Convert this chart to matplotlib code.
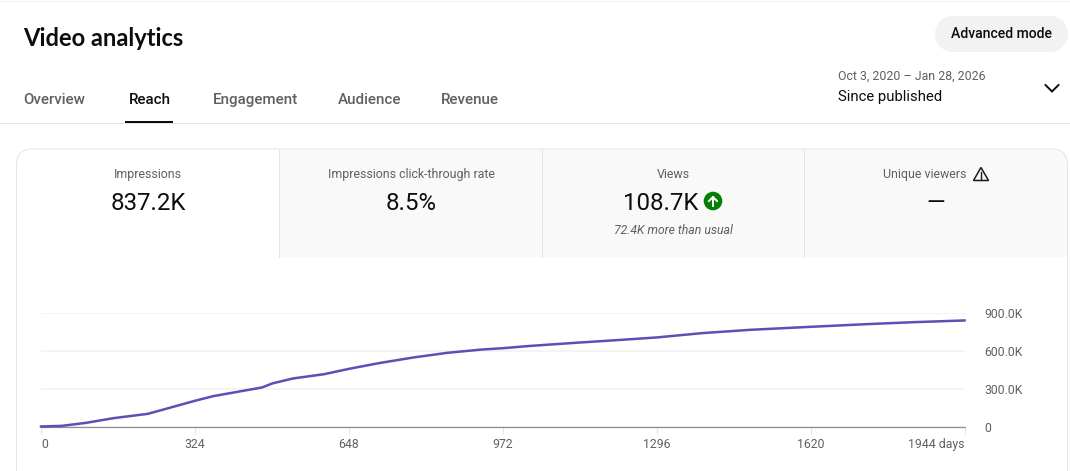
"""YouTube Studio reach tab, redrawn"""

import matplotlib
matplotlib.use('Agg')
import matplotlib.pyplot as plt
from matplotlib.patches import Rectangle, FancyBboxPatch, Circle, Polygon

plt.rcParams['font.family'] = ['Roboto', 'DejaVu Sans']

#%% data
days = [0, 44, 95, 153, 225, 276, 324, 363, 414, 465, 487, 530, 596, 648, 711, 784, 856,
        929, 972, 1029, 1130, 1217, 1296, 1391, 1492, 1620, 1738, 1840, 1944]
impressions = [0, 5, 29, 66, 100, 153, 203, 240, 274, 308, 340, 379, 413, 455, 500, 545, 582,
               608, 618, 636, 662, 683, 703, 737, 763, 787, 808, 824, 837.2]
x_ticks = [0, 324, 648, 972, 1296, 1620, 1944]
x_labels = ['0', '324', '648', '972', '1296', '1620', '1944 days']
y_ticks = [0, 300, 600, 900]
y_labels = ['0', '300.0K', '600.0K', '900.0K']
tabs = ['Overview', 'Reach', 'Engagement', 'Audience', 'Revenue']
tab_x = [24, 129, 213, 338, 441]
card_titles = ['Impressions', 'Impressions click-through rate', 'Views', 'Unique viewers']
card_x = [148, 411, 673.5, 925]
card_values = ['837.2K', '8.5%', '108.7K', '\u2014']
card_value_x = [148, 411, 661, 936]

W, H = 1070, 471
GREY = '#606060'
DARK = '#0d0d0d'
BORDER = '#e5e5e5'


def px(size):
    return size * 0.72


fig = plt.figure(figsize=(W / 100, H / 100), dpi=100)
bg = fig.add_axes([0, 0, 1, 1])
bg.set_xlim(0, W)
bg.set_ylim(H, 0)
bg.axis('off')

#%% header
bg.plot([0, W], [0.5, 0.5], color='#f2f2f2', lw=0.72)
bg.text(23.5, 38, 'Video analytics', fontsize=px(23.7), fontweight='bold', color=DARK,
        family='Lato', va='center')
bg.add_patch(Rectangle((953, 16), 97, 36, fc='#f2f2f2', ec='none'))
bg.add_patch(Circle((953, 34), 18, fc='#f2f2f2', ec='none'))
bg.add_patch(Circle((1050, 34), 18, fc='#f2f2f2', ec='none'))
bg.text(1001.5, 33.5, 'Advanced mode', fontsize=px(14), fontweight='medium', color=DARK,
        ha='center', va='center')

for name, x in zip(tabs, tab_x):
    col = DARK if name == 'Reach' else GREY
    bg.text(x - 0.5, 100, name, fontsize=px(15.1), fontweight='medium', color=col, va='center')
bg.plot([0, W], [123, 123], color=BORDER, lw=0.72)
bg.add_patch(Rectangle((125, 121), 48, 2, fc=DARK, ec='none'))

bg.text(838, 76, 'Oct 3, 2020 \u2013 Jan 28, 2026', fontsize=px(12.4), color=GREY, va='center')
bg.text(838, 97, 'Since published', fontsize=px(14.9), color=DARK, va='center')
bg.plot([1045.5, 1052, 1058.5], [85, 91.5, 85], color=DARK, lw=1.4, solid_joinstyle='miter')

#%% metric cards
card = FancyBboxPatch((16.5, 149), 1051, 340, boxstyle='round,pad=0,rounding_size=16',
                      fc='white', ec='none')
bg.add_patch(card)
strip = Rectangle((279, 149), 789, 108, fc='#f9f9f9', ec='none')
bg.add_patch(strip)
strip.set_clip_path(card)
for x in [279, 542, 804]:
    bg.plot([x, x], [150, 257], color=BORDER, lw=0.72)
bg.add_patch(FancyBboxPatch((16.5, 149), 1051, 340, boxstyle='round,pad=0,rounding_size=16',
                            fc='none', ec=BORDER, lw=0.72))

for title, x in zip(card_titles, card_x):
    bg.text(x, 174.5, title, fontsize=px(12.4), color=GREY, ha='center', va='center')
for value, x in zip(card_values, card_value_x):
    bg.text(x, 203, value, fontsize=px(24), color=DARK, ha='center', va='center')
bg.text(673.5, 231, '72.4K more than usual', fontsize=px(12.2), color=GREY, style='italic',
        ha='center', va='center')

# green up arrow badge
bg.add_patch(Circle((713, 201), 9.3, fc='#067f06', ec='none'))
bg.plot([713, 713], [206, 197], color='white', lw=1.4)
bg.plot([709, 713, 717], [201, 197, 201], color='white', lw=1.4)

# warning triangle
bg.add_patch(Polygon([[981, 167.5], [973.5, 180.5], [988.5, 180.5]], closed=True,
                     fc='none', ec='#1a1a1a', lw=1.1))
bg.plot([981, 981], [172, 176.5], color='#1a1a1a', lw=1)
bg.plot([981, 981], [177.5, 179], color='#1a1a1a', lw=1)

#%% chart
ax = fig.add_axes([41 / W, 1 - 426.5 / H, (964.5 - 41) / W, (426.5 - 312.5) / H])
ax.patch.set_alpha(0)
ax.plot(days, impressions, color='#5c4fb5', lw=1.8, clip_on=False, zorder=5)
ax.set_xlim(0, 1944)
ax.set_ylim(0, 900)

for side in ['top', 'left', 'right']:
    ax.spines[side].set_visible(False)
ax.spines['bottom'].set_color('#909090')
ax.spines['bottom'].set_linewidth(0.9)
ax.grid(axis='y', color='#f2f2f2', lw=1.2)
ax.set_axisbelow(True)

ax.set_xticks(x_ticks)
ax.set_xticklabels(x_labels, fontsize=px(12.3), color=GREY)
ax.tick_params(axis='x', length=5, width=0.8, color=BORDER, pad=3)
ax.get_xticklabels()[0].set_ha('left')
ax.get_xticklabels()[-1].set_ha('right')

ax.yaxis.tick_right()
ax.set_yticks(y_ticks)
ax.set_yticklabels(y_labels, fontsize=px(12.3), color=GREY, va='center_baseline')
ax.tick_params(axis='y', length=0, pad=14)

plt.savefig('out.png', dpi=100)
